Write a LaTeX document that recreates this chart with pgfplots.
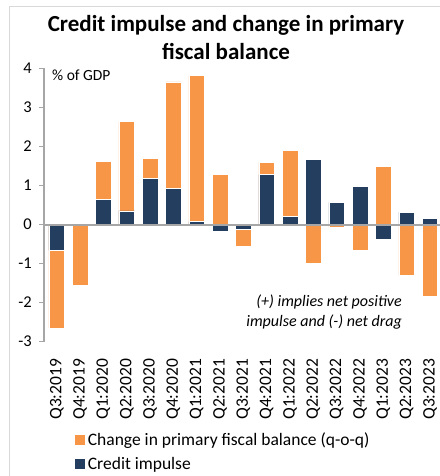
\documentclass[border=0pt]{standalone}
\usepackage{pgfplots}
\pgfplotsset{compat=1.18}
\usepackage{pgfplotstable}
\usepackage{fontspec}
\setmainfont{Carlito}

\definecolor{fiscalorange}{HTML}{F79646}
\definecolor{creditnavy}{HTML}{243E60}
\definecolor{axisgray}{HTML}{A6A6A6}
\definecolor{framegray}{HTML}{D9D9D9}

% credit impulse and change in primary fiscal balance, % of GDP
\pgfplotstableread{
idx credit fiscal
0  -0.66 -1.99
1   0.00 -1.55
2   0.64  0.98
3   0.35  2.28
4   1.19  0.51
5   0.93  2.72
6   0.07  3.75
7  -0.17  1.28
8  -0.13 -0.42
9   1.28  0.31
10  0.21  1.69
11  1.66 -0.99
12  0.57 -0.08
13  0.97 -0.66
14 -0.38  1.49
15  0.32 -1.30
16  0.16 -1.84
}\impulsedata

\begin{document}
\begin{tikzpicture}[x=1bp, y=1bp]
\useasboundingbox (0,0) rectangle (440,476);
\clip (0,0) rectangle (440,476);
% chart frame
\draw[framegray, line width=1bp] (9,-5) -- (9,469) -- (450,469);

\begin{axis}[
    at={(43.9bp,134.3bp)}, anchor=south west,
    scale only axis,
    width=397.8bp, height=273.4bp,
    xmin=-0.55, xmax=16.5,
    ymin=-3, ymax=4,
    ytick={-3,-2,...,4},
    yticklabels={-3,-2,-1,0,1,2,3,4},
    xtick={0,...,16},
    xticklabels={Q3:2019,Q4:2019,Q1:2020,Q2:2020,Q3:2020,Q4:2020,Q1:2021,Q2:2021,Q3:2021,Q4:2021,Q1:2022,Q2:2022,Q3:2022,Q4:2022,Q1:2023,Q2:2023,Q3:2023},
    axis y line*=left,
    axis x line*=bottom,
    x axis line style={draw=none},
    y axis line style={axisgray, line width=1.5bp},
    tick align=outside,
    major x tick style={draw=none},
    major y tick style={axisgray, line width=1.2bp},
    major tick length=5bp,
    xticklabel style={rotate=90, anchor=east, inner sep=0pt, font=\fontsize{17.5bp}{20bp}\selectfont},
    xticklabel shift=12bp,
    yticklabel style={anchor=east, inner sep=0pt, font=\fontsize{16.5bp}{19bp}\selectfont},
    yticklabel shift=7bp,
    ybar, bar width=15.6bp, bar shift=0pt,
    legend style={draw=none, fill=none, inner sep=0pt,
        at={(0.0757,-0.325)}, anchor=north west,
        row sep=6bp,
        font=\fontsize{17.5bp}{20bp}\selectfont},
    legend cell align=left,
    legend image code/.code={\fill[#1] (0bp,-5.5bp) rectangle (11bp,5.5bp);},
]
% orange bar reaches the end of the stack when both parts share a sign
\addplot[fill=fiscalorange, draw=white, line width=0.7bp]
    table[x=idx, y expr={\thisrow{fiscal}+((\thisrow{credit}*\thisrow{fiscal}>0) ? \thisrow{credit} : 0)}] {\impulsedata};
\addlegendentry{Change in primary fiscal balance (q-o-q)}
\addplot[fill=creditnavy, draw=white, line width=0.7bp]
    table[x=idx, y=credit] {\impulsedata};
\addlegendentry{Credit impulse}
\draw[axisgray, line width=2bp] (axis cs:-0.55,0) -- (axis cs:16.5,0);
\end{axis}

\node[anchor=west, inner sep=0pt, font=\fontsize{15.5bp}{18bp}\selectfont] at (52,401) {\% of GDP};
\node[align=center, font=\bfseries\fontsize{23bp}{28bp}\selectfont] at (226,438) {Credit impulse and change in primary\\fiscal balance};
\node[align=right, anchor=north east, inner sep=0pt, font=\itshape\fontsize{16bp}{19.5bp}\selectfont] at (402,181) {(+) implies net positive\\impulse and (-) net drag};
\end{tikzpicture}
\end{document}
